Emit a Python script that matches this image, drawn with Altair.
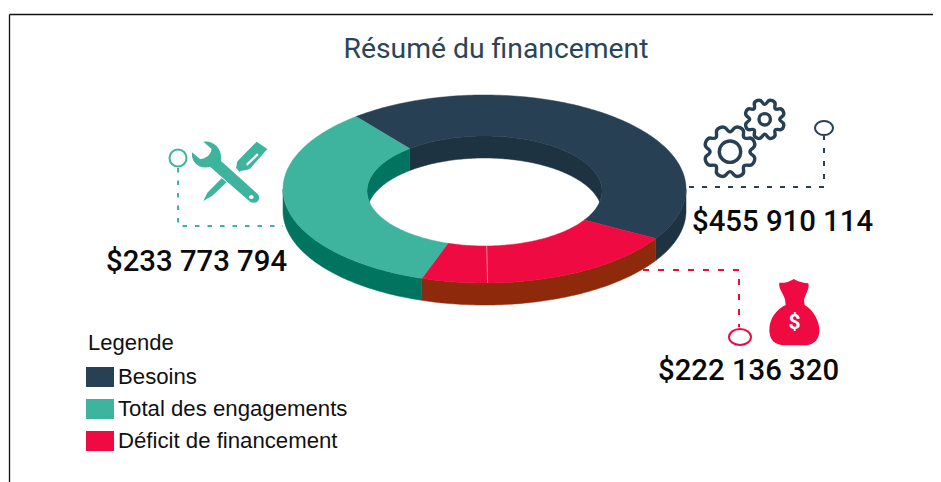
import re, math
import altair as alt
import pandas as pd

# --- values
legend_names = ["Besoins", "Total des engagements", "Déficit de financement"]
legend_colors = ["#274053", "#3eb39e", "#ef0a42"]
amount_labels = ["$455 910 114", "$233 773 794", "$222 136 320"]
amount_x = [692, 106, 658]
amount_y = [222, 262, 371]

# clockwise order round the ring, start at -39.6 deg from the top
ring_names = ["Besoins", "Déficit de financement", "Total des engagements"]
ring_shares = [44.83, 21.2, 33.97]
ring_start = -39.6
top_colors = {"Besoins": "#274053", "Total des engagements": "#3eb39e", "Déficit de financement": "#ef0a42"}
outer_wall_colors = {"Besoins": "#1d3341", "Total des engagements": "#00745e", "Déficit de financement": "#8f290c"}
inner_wall_colors = {"Besoins": "#1d3341", "Total des engagements": "#00745e", "Déficit de financement": "#8f290c"}

CX, OCY, ICY = 484.5, 189.0, 191.0
ORX, ORY, IRX, IRY = 201.5, 94.0, 117.5, 55.0
DEPTH = 22.0

X = alt.X("x:Q", axis=None, scale=alt.Scale(domain=[8, 933], nice=False, zero=False))
Y = alt.Y("y:Q", axis=None, scale=alt.Scale(domain=[482, 8], nice=False, zero=False))
X2 = alt.X2("x2:Q")
Y2 = alt.Y2("y2:Q")


def arc(rx, ry, cy, a0, a1, dy=0.0):
    n = max(2, int(abs(a1 - a0)) + 1)
    out = []
    for k in range(n + 1):
        a = math.radians(a0 + (a1 - a0) * k / n)
        out.append((CX + rx * math.sin(a), cy - ry * math.cos(a) + dy))
    return out


def poly(points, color):
    pts = list(points) + [points[0]]
    df = pd.DataFrame({"x": [p[0] for p in pts], "y": [p[1] for p in pts], "i": list(range(len(pts)))})
    return alt.Chart(df).mark_line(fill=color, stroke=color, strokeWidth=0.5, opacity=1).encode(
        x=X, y=Y, order=alt.Order("i:Q"))


layers = []

# frame
frame = pd.DataFrame({"x": [9.5, 9.5], "x2": [933, 9.5], "y": [14.5, 14.5], "y2": [14.5, 482]})
layers.append(alt.Chart(frame).mark_rule(color="#111111", strokeWidth=1.3).encode(x=X, x2=X2, y=Y, y2=Y2))

# ring geometry
spans = []
a = ring_start
for name, share in zip(ring_names, ring_shares):
    b = a + share * 3.6
    spans.append((name, a, b))
    a = b

# outer and inner walls (visible parts only)
for name, a0, b0 in spans:
    lo, hi = max(a0, 90), min(b0, 270)
    if hi > lo:
        layers.append(poly(arc(ORX, ORY, OCY, lo, hi) + arc(ORX, ORY, OCY, hi, lo, DEPTH), outer_wall_colors[name]))
for name, a0, b0 in spans:
    for shift in (0, -360):
        lo, hi = max(a0 + shift, -100), min(b0 + shift, 100)
        if hi > lo:
            layers.append(poly(arc(IRX, IRY, ICY, lo, hi) + arc(IRX, IRY, ICY, hi, lo, DEPTH), inner_wall_colors[name]))

# top face
for name, a0, b0 in spans:
    layers.append(poly(arc(ORX, ORY, OCY, a0, b0) + arc(IRX, IRY, ICY, b0, a0), top_colors[name]))

# faint seam in the red slice
seam = pd.DataFrame({"x": [486.7], "x2": [487.6], "y": [246], "y2": [283]})
layers.append(alt.Chart(seam).mark_rule(color="#f7a0b5", strokeWidth=0.8).encode(x=X, x2=X2, y=Y, y2=Y2))


# leaders
def leader(xs, ys, color, dash):
    df = pd.DataFrame({"x": xs, "y": ys, "i": list(range(len(xs)))})
    return alt.Chart(df).mark_line(color=color, strokeWidth=2, strokeDash=dash).encode(x=X, y=Y, order=alt.Order("i:Q"))


layers.append(leader([689, 824, 824], [187, 187, 136], "#274053", [5, 8]))
layers.append(leader([178, 178, 283], [168, 226, 226], "#3eb39e", [4.5, 8]))
layers.append(leader([643, 739, 739], [270, 270, 327], "#ef0a42", [6, 9]))


def at(x, y):
    return pd.DataFrame({"x": [x], "y": [y]})


def ellipse(rx, ry):
    return f"M{-rx},0A{rx},{ry} 0 1,1 {rx},0A{rx},{ry} 0 1,1 {-rx},0Z"


def marker(x, y, rx, ry, color):
    return alt.Chart(at(x, y)).mark_point(shape=ellipse(rx, ry), size=4, filled=False, stroke=color,
                                          strokeWidth=2, opacity=1).encode(x=X, y=Y)


layers.append(marker(824, 128, 9, 7, "#274053"))
layers.append(marker(178, 158, 8.5, 8.5, "#3eb39e"))
layers.append(marker(740, 337, 11, 8, "#ef0a42"))


# icons: paths noted at 3x, with local pixel units once divided
def third(path):
    return re.sub(r"-?\d+(?:\.\d+)?", lambda m: f"{float(m.group()) / 3:.2f}", path)


WRENCH = ("M160,50 C190,45 218,70 213,108 L323,207 C335,222 322,238 302,232 L180,125 "
          "C150,135 122,112 126,82 L150,102 C165,103 183,90 185,72 Z "
          "M297,216 C297,224 311,224 311,216 C311,208 297,208 297,216Z")
DRIVER = ("M320,50 L352,72 L300,131 C285,138 272,136 268,140 L258,128 C262,122 258,115 263,108 Z "
          "M288,117 L292,122 L326,90 L321,85 Z "
          "M215,160 L230,172 L187,212 L160,228 L172,203 Z")
BAG = ("M462,57 C470,62 480,68 505,70 C510,85 495,105 492,120 L494,135 C520,150 540,185 538,215 "
       "C536,245 515,256 490,256 L435,256 C405,256 388,240 388,210 C388,175 410,148 437,135 "
       "L435,118 C430,100 415,85 418,68 C440,70 452,62 462,57Z")


def gear(R, r, hole, teeth=8):
    pts = []
    step = 360 / teeth
    for t in range(teeth):
        c = t * step + step / 2
        for off, rad in ((-0.4, r), (-0.22, R), (0.22, R), (0.4, r)):
            ang = math.radians(c + off * step)
            pts.append((rad * math.sin(ang), -rad * math.cos(ang)))
    n = len(pts)
    mid = lambda p, q: ((p[0] + q[0]) / 2, (p[1] + q[1]) / 2)
    start = mid(pts[-1], pts[0])
    body = f"M{start[0]:.2f},{start[1]:.2f}"
    for k in range(n):
        m = mid(pts[k], pts[(k + 1) % n])
        body += f"Q{pts[k][0]:.2f},{pts[k][1]:.2f} {m[0]:.2f},{m[1]:.2f}"
    return body + "Z" + ellipse(hole, hole)


for path, x, y, color in ((WRENCH, 150, 125, "#3eb39e"), (DRIVER, 150, 125, "#3eb39e"), (BAG, 640, 260, "#ef0a42")):
    layers.append(alt.Chart(at(x, y)).mark_point(shape=third(path), size=4, filled=True, fill=color,
                                                 strokeWidth=0, opacity=1).encode(x=X, y=Y))

for x, y, R, r, hole in ((730, 151.7, 26.5, 20, 10.7), (764.7, 119.3, 20.5, 15, 5.7)):
    layers.append(alt.Chart(at(x, y)).mark_point(shape=gear(R, r, hole), size=4, filled=False, stroke="#274053",
                                                 strokeWidth=3.4, strokeJoin="round", opacity=1).encode(x=X, y=Y))

# texts
layers.append(alt.Chart(at(496, 50)).mark_text(text="Résumé du financement", font="Roboto", fontSize=28.3,
                                               color="#2a4558", align="center", baseline="middle").encode(x=X, y=Y))
amounts = pd.DataFrame({"x": amount_x, "y": amount_y, "t": amount_labels})
layers.append(alt.Chart(amounts).mark_text(font="Roboto", fontSize=29.3, fontWeight=500, color="#0a0a0a",
                                           align="left", baseline="middle").encode(x=X, y=Y, text="t:N"))
layers.append(alt.Chart(at(794.5, 323)).mark_text(text="$", font="Roboto", fontSize=21, fontWeight=700,
                                                  color="#ffffff", align="center", baseline="middle").encode(x=X, y=Y))

# legend
legend_df = pd.DataFrame({"x": [500, 500, 500], "y": [200, 200, 200], "name": legend_names})
layers.append(alt.Chart(legend_df).mark_point(filled=True, opacity=0, size=1).encode(
    x=X, y=Y,
    color=alt.Color("name:N", sort=legend_names,
                    scale=alt.Scale(domain=legend_names, range=legend_colors),
                    legend=alt.Legend(
                        title="Legende", orient="none", legendX=80, legendY=325,
                        symbolType="M-1,-0.714H1V0.714H-1Z", symbolSize=784, symbolOpacity=1,
                        symbolStrokeWidth=0, symbolOffset=-2, rowPadding=6, labelOffset=4,
                        labelFont="Liberation Sans", labelFontSize=22.2, labelColor="#111111", labelLimit=400,
                        titleFont="Liberation Sans", titleFontSize=22, titleFontWeight="normal",
                        titleColor="#111111", titlePadding=8))))

chart = alt.layer(*layers).properties(
    width=925, height=474, padding=0,
    autosize=alt.AutoSizeParams(type="none"),
    background="#ffffff",
).configure_view(stroke=None)

chart.save("out.html", embed_options={"renderer": "svg", "actions": False})
